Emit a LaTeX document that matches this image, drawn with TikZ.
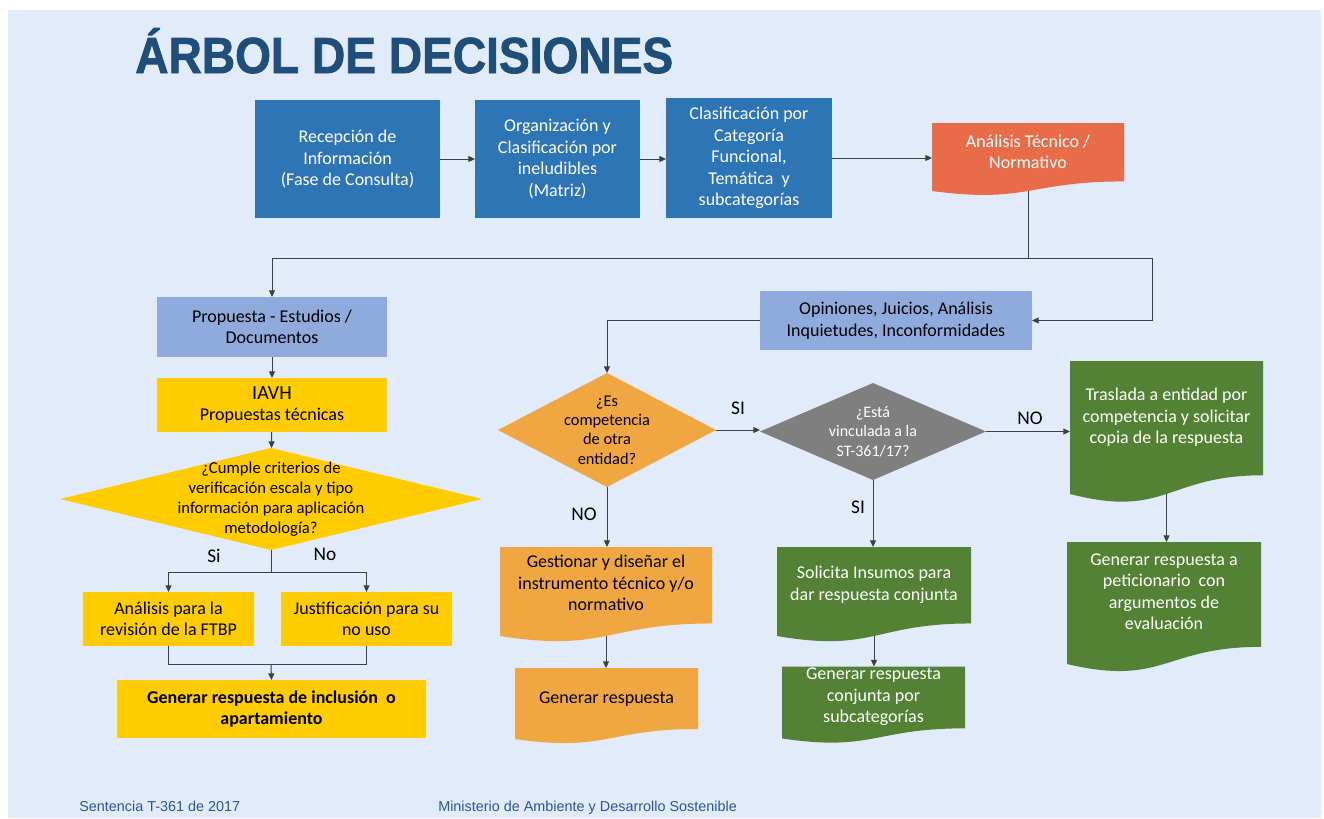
\documentclass[tikz,border=0pt]{standalone}
\usepackage{fontspec}
\usepackage{graphicx}
\setmainfont{Carlito}
\newfontfamily\titlefont{Liberation Sans}
\newfontfamily\headfont{Liberation Sans}[BoldFeatures={FakeBold=1.6}]
\usetikzlibrary{shapes.geometric,arrows.meta,backgrounds,calc}

\definecolor{bgcol}{HTML}{E2EBF9}
\definecolor{titlecol}{HTML}{1F4E79}
\definecolor{footcol}{HTML}{2B5797}
\definecolor{darkblue}{HTML}{2E75B6}
\definecolor{lightblue}{HTML}{8FAADC}
\definecolor{anacol}{HTML}{E96C4A}
\definecolor{yelcol}{HTML}{FFCC00}
\definecolor{orcol}{HTML}{F0A742}
\definecolor{graycol}{HTML}{7F7F7F}
\definecolor{grcol}{HTML}{548235}
\definecolor{linecol}{HTML}{404040}

% wavy bottom of the document boxes
\newcommand{\docfill}[2]{%
  \fill[#2] (#1.north west) -- (#1.north east)
    -- ($(#1.south east)!0.141!(#1.north east)$)
    .. controls ($(#1.south)!0.141!(#1.north)$) and ($(#1.south)!-0.187!(#1.north)$)
    .. (#1.south west) -- cycle;}

\tikzset{
  wh/.style 2 args={minimum width=#1*0.75pt, minimum height=#2*0.75pt},
  box/.style={rectangle, align=center, inner sep=1pt, outer sep=0pt,
    font=\fontsize{13.5}{16.1}\selectfont},
  darkbox/.style={box, fill=darkblue, text=white},
  lightbox/.style={box, fill=lightblue, text=black},
  yelbox/.style={box, fill=yelcol, text=black},
  doc/.style={box, text depth=#1},
  decide/.style={diamond, inner sep=0pt, outer sep=0pt},
  dlabel/.style={align=center, inner sep=0pt},
  lbl/.style={font=\fontsize{14.5}{17}\selectfont, text=black},
  foot/.style={anchor=base west, inner sep=0pt, text=footcol,
    font=\titlefont\fontsize{10.8}{12}\selectfont},
  conn/.style={draw=linecol, line width=0.75pt},
  arr/.style={conn, -{Triangle[length=5pt,width=4.5pt]}},
}

\begin{document}
\begin{tikzpicture}[x=0.75pt,y=-0.75pt]
\useasboundingbox (0,0) rectangle (1324,818);

% title and footer
\node[anchor=base west, inner sep=0pt, text=titlecol,
  font=\headfont\bfseries\fontsize{38}{42}\selectfont] (title) at (135,73)
  {\scalebox{0.91}[1]{ÁRBOL DE DECISIONES}};
\node[foot] (foot1) at (79,811) {Sentencia T-361 de 2017};
\node[foot] (foot2) at (438,811) {Ministerio de Ambiente y Desarrollo Sostenible};

% top row
\node[darkbox, wh={185}{118}] (rec) at (347.5,159) {Recepción de\\Información\\(Fase de Consulta)};
\node[darkbox, wh={165}{118}] (org) at (557.5,159) {Organización y\\Clasificación por\\ineludibles\\(Matriz)};
\node[darkbox, wh={166}{120}] (clas) at (749,158) {Clasificación por\\Categoría\\Funcional,\\Temática~ y\\subcategorías};
\node[doc=8pt, text=white, wh={192}{68}] (ana) at (1028,157) {Análisis Técnico /\\Normativo};

% left branch
\node[lightbox, wh={230}{60}] (prop) at (272,327) {Propuesta - Estudios /\\Documentos};
\node[yelbox, wh={230}{54}] (iavh) at (272,405) {{\fontsize{15}{18}\selectfont IAVH}\\Propuestas técnicas};
\node[decide, fill=yelcol, wh={422}{102},
  label={[dlabel, font=\fontsize{12.5}{15}\selectfont]center:{¿Cumple criterios de\\verificación escala y tipo\\información para aplicación\\metodología?}}]
  (cumple) at (271,499) {};
\node[yelbox, wh={171}{54}] (ana1) at (168.5,619) {Análisis para la\\revisión de la FTBP};
\node[yelbox, wh={171}{54}] (just) at (366.5,619) {Justificación para su\\no uso};
\node[yelbox, wh={309}{58}, font=\bfseries\fontsize{13.5}{16.1}\selectfont] (gen1) at (271.5,709)
  {Generar respuesta de inclusión~ o\\apartamiento};

% right branch
\node[lightbox, wh={272}{59}] (opin) at (896,320.5) {Opiniones, Juicios, Análisis\\Inquietudes, Inconformidades};
\node[decide, fill=orcol, wh={218}{114},
  label={[dlabel, font=\fontsize{12.3}{14.6}\selectfont]center:{¿Es\\competencia\\de otra\\entidad?}}]
  (esq) at (607,430) {};
\node[decide, fill=graycol, wh={226}{97},
  label={[dlabel, text=white, font=\fontsize{12}{14.6}\selectfont]center:{¿Está\\vinculada a la\\ST-361/17?}}]
  (vinc) at (873,431.5) {};
\node[doc=12.5pt, wh={212}{89}] (gest) at (606,591.5) {Gestionar y diseñar el\\instrumento técnico y/o\\normativo};
\node[doc=9.5pt, wh={183}{71}] (gen2) at (606.5,703.5) {Generar respuesta};
\node[doc=12.5pt, text=white, wh={194}{89}] (solic) at (874,591.5) {Solicita Insumos para\\dar respuesta conjunta};
\node[doc=11pt, text=white, wh={183}{71}] (gen3) at (873.5,702.5) {Generar respuesta\\conjunta por\\subcategorías};
\node[doc=17pt, text=white, wh={193}{133}] (tras) at (1166.5,427.5) {Traslada a entidad por\\competencia y solicitar\\copia de la respuesta};
\node[doc=17pt, text=white, wh={194}{122}] (gen4) at (1164,603) {Generar respuesta a\\peticionario~ con\\argumentos de\\evaluación};

% branch labels
\node[lbl] (si1) at (738,408) {SI};
\node[lbl] (no1) at (584,514) {NO};
\node[lbl] (no2) at (1030,418) {NO};
\node[lbl] (si2) at (858,507) {SI};
\node[lbl] (si3) at (214,556) {Si};
\node[lbl] (no3) at (325,554) {No};

% helper points
\coordinate (jn) at (1028,258);
\coordinate (rtc) at (1152,258);
\coordinate (fork) at (271,572);
\coordinate (merge) at (271,664);

% connectors
\draw[arr] (rec) -- (org);
\draw[arr] (org.east) -- (org.east -| clas.west);
\draw[arr] (clas.east) -- (clas.east -| ana.west);
\draw[conn] (ana.south) -- (jn);
\draw[arr] (jn) -| (prop.north);
\draw[arr] (jn) -- (rtc) -- (rtc |- opin.east) -- (opin.east);
\draw[arr] (prop) -- (iavh);
\draw[arr] (iavh) -- (cumple);
\draw[conn] (cumple.south) -- (fork);
\draw[arr] (fork) -| (ana1.north);
\draw[arr] (fork) -| (just.north);
\draw[conn] (ana1.south) |- (merge) -| (just.south);
\draw[arr] (merge) -- (gen1.north);
\draw[arr] (opin.west) -| (esq.north);
\draw[arr] (esq.east) -- (esq.east -| vinc.west);
\draw[arr] (vinc.east) -- (vinc.east -| tras.west);
\draw[arr] (esq.south) -- (esq.south |- gest.north);
\draw[arr] (gest.south) -- (gest.south |- gen2.north);
\draw[arr] (vinc.south) -- (vinc.south |- solic.north);
\draw[arr] (solic.south) -- (solic.south |- gen3.north);
\draw[arr] (tras.south) -- (tras.south |- gen4.north);

\begin{scope}[on background layer]
\fill[bgcol] (8,10) rectangle (1321,818);
\foreach \n/\c in {ana/anacol, gest/orcol, gen2/orcol, solic/grcol, gen3/grcol, tras/grcol, gen4/grcol}
  {\docfill{\n}{\c}}
\end{scope}
\end{tikzpicture}
\end{document}
